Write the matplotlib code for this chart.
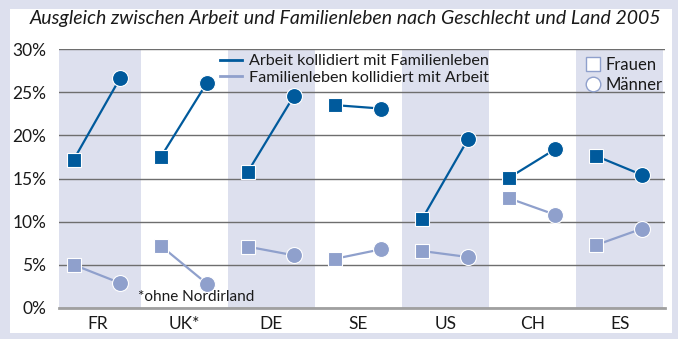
import numpy as np
import matplotlib.pyplot as plt
from matplotlib.lines import Line2D
from matplotlib.patches import Rectangle

laender = ["FR", "UK*", "DE", "SE", "US", "CH", "ES"]
arbeit_frauen = [17.2, 17.5, 15.8, 23.5, 10.3, 15.1, 17.6]
arbeit_maenner = [26.6, 26.1, 24.6, 23.1, 19.6, 18.4, 15.4]
familie_frauen = [5.0, 7.2, 7.1, 5.7, 6.6, 12.7, 7.3]
familie_maenner = [2.9, 2.8, 6.1, 6.8, 5.9, 10.8, 9.2]

dunkel = "#005a9c"
hell = "#8fa0cc"
band = "#dde0ee"
textfarbe = "#1a1a1a"

plt.rcParams['font.family'] = ['Lato', 'DejaVu Sans']

fig = plt.figure(figsize=(6.78, 3.39), dpi=100)
fig.patch.set_facecolor(band)
fig.patches.append(Rectangle((10 / 678, 1 - 333 / 339), 662 / 678, 324 / 339,
                             transform=fig.transFigure, facecolor="white",
                             edgecolor="none", zorder=-10))

ax = fig.add_axes([59 / 678, 1 - 308 / 339, 606 / 678, 259 / 339])
ax.set_facecolor("none")

x = np.arange(len(laender))
for i in x[::2]:
    ax.axvspan(i - 0.5, i + 0.5, color=band, lw=0, zorder=0)

dx_f, dx_m = -0.27, 0.26
for i in x:
    ax.plot([i + dx_f, i + dx_m], [arbeit_frauen[i], arbeit_maenner[i]],
            color=dunkel, lw=1.6, zorder=3)
    ax.plot([i + dx_f, i + dx_m], [familie_frauen[i], familie_maenner[i]],
            color=hell, lw=1.6, zorder=3)

ax.plot(x + dx_f, arbeit_frauen, 's', color=dunkel, ms=10.5, mec="white", mew=0.8, zorder=4)
ax.plot(x + dx_m, arbeit_maenner, 'o', color=dunkel, ms=11.5, mec="white", mew=0.8, zorder=4)
ax.plot(x + dx_f, familie_frauen, 's', color=hell, ms=10.5, mec="white", mew=0.8, zorder=4)
ax.plot(x + dx_m, familie_maenner, 'o', color=hell, ms=11.5, mec="white", mew=0.8, zorder=4)

ax.set_xlim(-0.44, 6.52)
ax.set_ylim(0, 30)
ax.set_yticks(range(0, 31, 5))
ax.set_yticklabels([str(v) + "%" for v in range(0, 31, 5)], fontsize=12.5, color=textfarbe)
ax.set_xticks(x)
ax.set_xticklabels(laender, fontsize=12.5, color=textfarbe)
ax.tick_params(length=0, pad=6)
ax.tick_params(axis='y', pad=9)
ax.yaxis.grid(True, color="#6e6e6e", lw=1, zorder=1)
ax.set_axisbelow(True)
for s in ["top", "right", "left"]:
    ax.spines[s].set_visible(False)
ax.spines["bottom"].set_color("#a0a0a0")
ax.spines["bottom"].set_linewidth(2)
ax.spines["bottom"].set_zorder(2)

h1 = [Line2D([], [], color=dunkel, lw=2), Line2D([], [], color=hell, lw=2)]
leg1 = ax.legend(h1, ["Arbeit kollidiert mit Familienleben", "Familienleben kollidiert mit Arbeit"],
                 loc="upper left", bbox_to_anchor=(0.252, 1.012), frameon=False,
                 fontsize=11.6, handlelength=1.4, handletextpad=0.4, labelspacing=0.15,
                 borderpad=0, labelcolor=textfarbe)
ax.add_artist(leg1)

h2 = [Line2D([], [], marker='s', ls='none', mfc="white", mec=hell, ms=10, mew=1),
      Line2D([], [], marker='o', ls='none', mfc="white", mec=hell, ms=10.5, mew=1)]
ax.legend(h2, ["Frauen", "Männer"], loc="upper left", bbox_to_anchor=(0.857, 1.0),
          frameon=False, fontsize=12, handlelength=0.8, handletextpad=0.35,
          labelspacing=0.2, borderpad=0, labelcolor=textfarbe)

fig.text(345 / 678, 1 - 18.5 / 339,
         "Ausgleich zwischen Arbeit und Familienleben nach Geschlecht und Land 2005",
         ha="center", va="center", fontsize=14, style="italic", color=textfarbe)
fig.text(138 / 678, 1 - 297 / 339, "*ohne Nordirland", ha="left", va="center",
         fontsize=11, color=textfarbe)

fig.savefig("out.png", dpi=100, facecolor=fig.get_facecolor())
